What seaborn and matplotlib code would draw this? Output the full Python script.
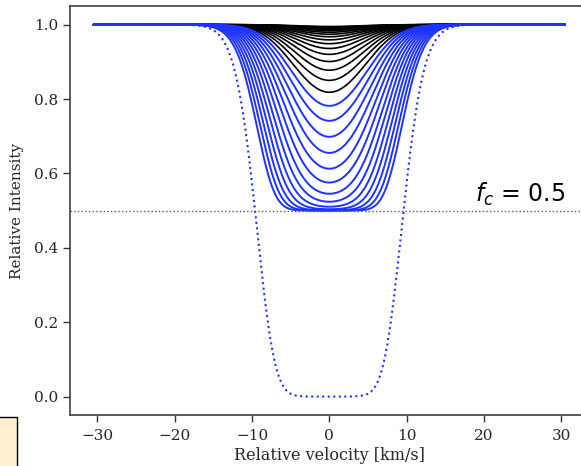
import numpy as np
import pandas as pd
import matplotlib
matplotlib.use("Agg")
import matplotlib.pyplot as plt
import seaborn as sns

# Central optical depths of the partially covered profiles (weak -> saturated)
tau_black = [0.010, 0.0127, 0.0161, 0.0204, 0.0259, 0.0329, 0.0418, 0.053,
             0.0672, 0.0853, 0.108, 0.137, 0.174, 0.221, 0.281, 0.356, 0.452]
tau_blue = [0.574, 0.728, 0.924, 1.17, 1.49, 1.89, 2.40, 3.04, 3.86, 4.89,
            6.21, 7.88, 10.0]
# Fully covered, saturated reference profile
tau_full = 10.0

covering_factor = 0.5
doppler_sigma = 4.16          # km/s, Gaussian optical-depth width
v_min, v_max = -30.5, 30.5    # velocity range of the profiles

xticks = [-30, -20, -10, 0, 10, 20, 30]
yticks = [0.0, 0.2, 0.4, 0.6, 0.8, 1.0]

velocity = np.linspace(v_min, v_max, 1201)


def profile(tau0, fc):
    tau = tau0 * np.exp(-velocity**2 / (2 * doppler_sigma**2))
    return 1.0 - fc * (1.0 - np.exp(-tau))


rows = []
for i, t in enumerate(tau_black + tau_blue):
    rows.append(pd.DataFrame({"velocity": velocity,
                              "intensity": profile(t, covering_factor),
                              "curve": i}))
df = pd.concat(rows, ignore_index=True)
colors = ["black"] * len(tau_black) + ["#1f33ff"] * len(tau_blue)
lws = [1.2] * len(tau_black) + [1.4] * len(tau_blue)

df_full = pd.DataFrame({"velocity": velocity,
                        "intensity": profile(tau_full, 1.0)})

sns.set_style("ticks")
plt.rcParams["font.family"] = ["DejaVu Serif"]
plt.rcParams["mathtext.fontset"] = "dejavusans"

fig = plt.figure(figsize=(5.81, 4.66), dpi=100)
ax = fig.add_axes([0.1205, 0.109, 0.8926, 0.878])

for i in range(len(colors)):
    sub = df[df["curve"] == i]
    sns.lineplot(data=sub, x="velocity", y="intensity", color=colors[i],
                 lw=lws[i], ax=ax, legend=False, sort=False)

sns.lineplot(data=df_full, x="velocity", y="intensity", color="#2233ee",
             lw=1.5, ls=":", ax=ax, legend=False, sort=False)

ax.axhline(covering_factor, color="0.35", ls=":", lw=1.0)
ax.text(18.9, covering_factor + 0.024, r"$f_c$ = 0.5", fontsize=17,
        family="DejaVu Sans", color="black", ha="left", va="baseline")

ax.set_xlim(-33.55, 33.55)
ax.set_ylim(-0.05, 1.05)
ax.set_xticks(xticks)
ax.set_yticks(yticks)
ax.set_xticklabels([f"{t:d}".replace("-", "\u2212") for t in xticks])
ax.set_yticklabels([f"{t:.1f}" for t in yticks])
ax.tick_params(labelsize=11, length=5, width=1.0, color="0.2",
               labelcolor="0.15")
ax.tick_params(axis="x", pad=5)
ax.set_xlabel("Relative velocity [km/s]", fontsize=11.5, labelpad=3)
ax.set_ylabel("Relative Intensity", fontsize=11, labelpad=7)
for s in ax.spines.values():
    s.set_color("0.25")
    s.set_linewidth(1.2)
ax.spines["right"].set_visible(False)

# cream note box peeking in at the lower left corner
fig.patches.append(plt.Rectangle((-0.01, -0.01), 0.0387, 0.115,
                                 transform=fig.transFigure, figure=fig,
                                 facecolor="#fff0cf", edgecolor="black",
                                 lw=1.0))

fig.savefig("out.png", dpi=100)
